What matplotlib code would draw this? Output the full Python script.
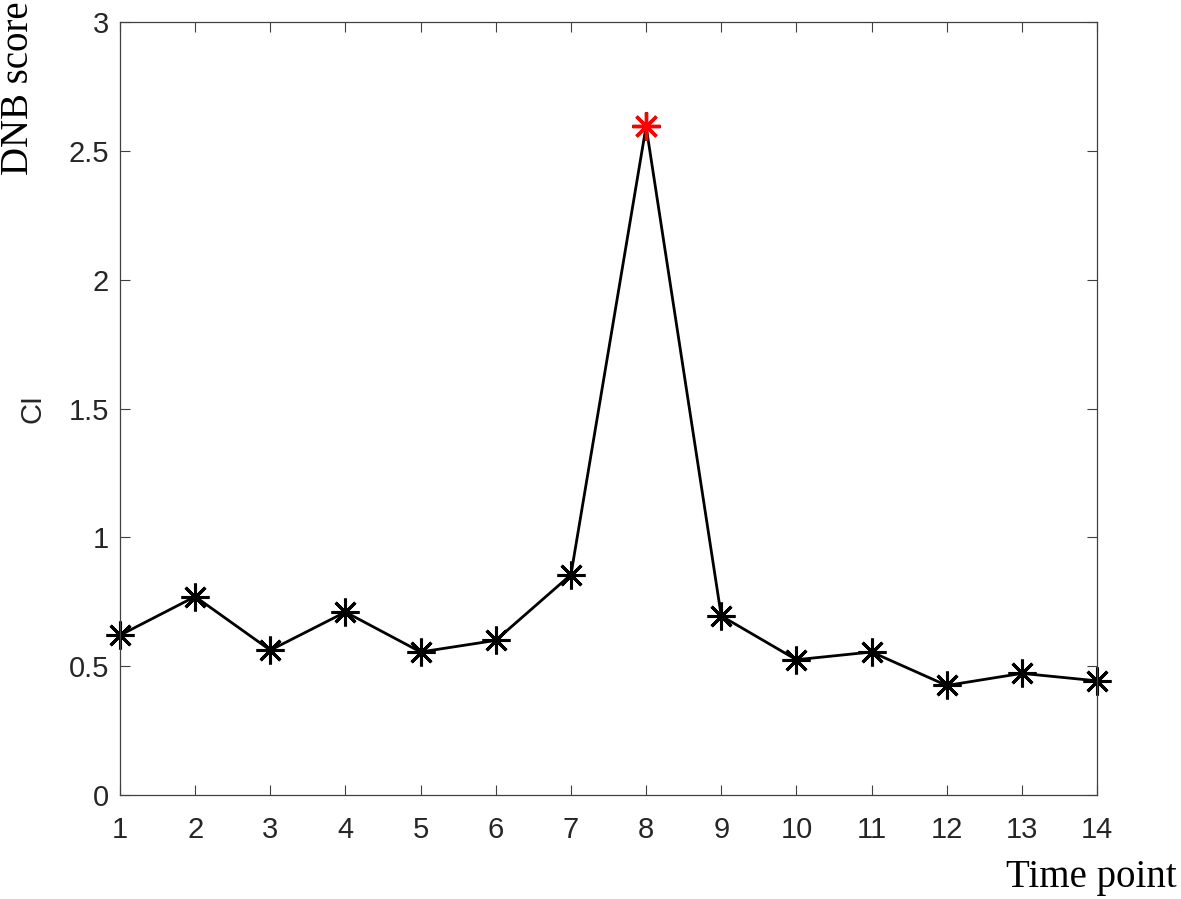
import matplotlib
matplotlib.use("Agg")
import matplotlib.pyplot as plt

time_points = list(range(1, 15))
ci_values = [0.62, 0.77, 0.562, 0.71, 0.555, 0.60, 0.855, 2.595,
             0.695, 0.525, 0.555, 0.425, 0.472, 0.443]
peak_index = 7
y_ticks = [0, 0.5, 1, 1.5, 2, 2.5, 3]
y_tick_labels = ["0", "0.5", "1", "1.5", "2", "2.5", "3"]

sans = ["Liberation Sans", "DejaVu Sans"]
serif = ["Liberation Serif", "DejaVu Serif"]
star = (8, 2, 0)

fig = plt.figure(figsize=(11.81, 8.99), dpi=100)
ax = fig.add_axes([0.1016, 0.1157, 0.8273, 0.8598])

ax.plot(time_points, ci_values, color="black", linewidth=2.0,
        marker=star, markersize=20, markeredgewidth=2.2,
        markeredgecolor="black", clip_on=False)
ax.plot(time_points[peak_index], ci_values[peak_index], linestyle="none",
        marker=star, markersize=20, markeredgewidth=2.4,
        markeredgecolor="red", color="red", clip_on=False)

ax.set_xlim(1, 14)
ax.set_ylim(0, 3)
ax.set_xticks(time_points)
ax.set_yticks(y_ticks)
ax.set_yticklabels(y_tick_labels)
ax.tick_params(direction="in", length=7, width=0.8, colors="#404040",
               labelcolor="#262626", labelsize=21, top=True, right=True)
ax.tick_params(axis="x", pad=15)
ax.tick_params(axis="y", pad=8)
for label in ax.get_xticklabels() + ax.get_yticklabels():
    label.set_family(sans)
for spine in ax.spines.values():
    spine.set_color("#404040")
    spine.set_linewidth(0.9)

ax.set_ylabel("CI", fontsize=21, family=sans, color="#262626", labelpad=16)
fig.text(0.996, 0.024, "Time point", fontsize=28, family=serif,
         ha="right", va="center")
fig.text(0.016, 0.805, "DNB score", fontsize=28, family=serif,
         rotation=90, ha="center", va="bottom")

fig.savefig("out.png", dpi=100)
